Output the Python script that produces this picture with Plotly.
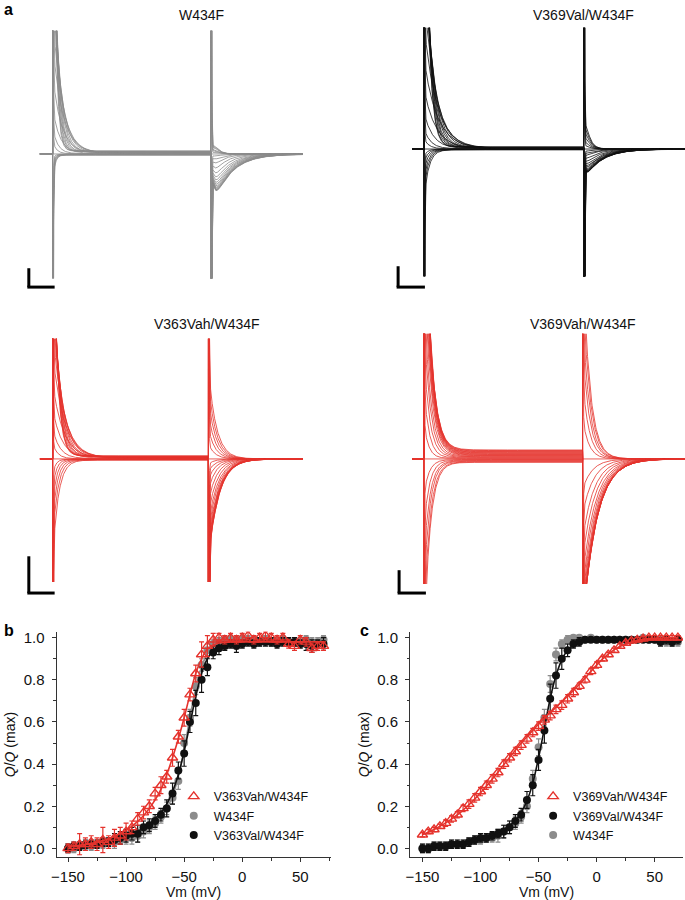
import numpy as np
import plotly.graph_objects as go

# ---------------- data: panel a (gating-current families) ----------------
steps_mV = [-150, -140, -130, -120, -110, -100, -90, -80, -70, -60, -50, -40,
            -30, -20, -10, 0, 10, 20, 30, 40, 50, 60, 70]
HOLD_mV = -90

# W434F (grey)
w434f_on_amp = [-30, -25, -20, -15, -10, -5, 0, 12, 25, 45, 78, 110, 140, 170, 200, 230, 260, 290, 320, 350, 380, 410, 440]
w434f_on_tau = [0.8, 0.8, 0.8, 0.8, 0.8, 0.8, 1.0, 1.5, 2.0, 2.8, 3.4, 3.8, 3.6, 3.2, 2.8, 2.4, 2.1, 1.8, 1.6, 1.4, 1.25, 1.1, 1.0]
w434f_off_amp = [8, 7, 6, 4, 3, 1.5, 0, -2, -5, -9, -14, -19, -23, -26, -28.5, -30.5, -32, -33.5, -34.5, -35.5, -36, -36.5, -37]
w434f_off_tau = [1.5, 1.5, 1.5, 1.5, 1.5, 1.5, 1.0, 3.0, 3.5, 4.0, 4.5, 5.0, 5.5, 5.8, 6.0, 6.2, 6.4, 6.5, 6.6, 6.7, 6.8, 6.8, 6.9]
w434f_off_rise = 0.9
w434f_leak = 3

# V369Val/W434F (black)
v369val_on_amp = [-50, -40, -31, -22, -14, -7, 0, 10, 20, 36, 60, 90, 125, 160, 190, 220, 245, 270, 295, 320, 345, 370, 395]
v369val_on_tau = [1.8, 1.7, 1.6, 1.5, 1.4, 1.3, 1.0, 2.0, 2.6, 3.5, 4.5, 5.0, 4.8, 4.3, 3.8, 3.3, 2.9, 2.6, 2.3, 2.1, 1.9, 1.7, 1.6]
v369val_off_amp = [22, 18, 14, 10, 6, 3, 0, -2, -4, -6, -9, -12, -14.5, -16.5, -18, -19.5, -20.5, -21.2, -21.8, -22.3, -22.7, -23, -23.3]
v369val_off_tau = [1.5, 1.5, 1.5, 1.5, 1.5, 1.5, 1.0, 3.5, 4.0, 4.5, 5.0, 5.5, 5.8, 6.0, 6.1, 6.2, 6.3, 6.3, 6.4, 6.4, 6.5, 6.5, 6.5]
v369val_off_rise = 0.5
v369val_leak = 2

# V363Vah/W434F (red)
v363vah_on_amp = [-100, -80, -62, -45, -30, -15, 0, 15, 30, 50, 75, 105, 130, 150, 170, 185, 200, 215, 230, 245, 260, 275, 290]
v363vah_on_tau = [2.2, 2.0, 1.8, 1.6, 1.4, 1.2, 1.0, 2.0, 2.8, 3.6, 4.2, 4.4, 4.2, 3.8, 3.4, 3.0, 2.7, 2.4, 2.2, 2.0, 1.8, 1.7, 1.6]
v363vah_off_amp = [90, 75, 60, 45, 30, 15, 0, -5, -12, -20, -30, -42, -54, -64, -72, -79, -85, -89, -93, -96, -98, -99, -100]
v363vah_off_tau = [3.0, 2.9, 2.8, 2.7, 2.6, 2.5, 1.0, 2.5, 2.8, 3.0, 3.2, 3.4, 3.6, 3.8, 3.9, 4.0, 4.0, 4.0, 4.0, 4.0, 4.0, 4.0, 4.0]
v363vah_off_rise = 0.0
v363vah_leak = 3

# V369Vah/W434F (red)
v369vah_on_amp = [-188, -160, -130, -100, -68, -35, 0, 35, 70, 105, 140, 170, 200, 225, 245, 262, 276, 287, 295, 300, 303, 305, 307]
v369vah_on_tau = [2.3, 2.3, 2.2, 2.2, 2.1, 2.0, 1.0, 1.8, 2.0, 2.2, 2.3, 2.4, 2.5, 2.5, 2.5, 2.5, 2.5, 2.5, 2.5, 2.5, 2.5, 2.5, 2.5]
v369vah_off_amp = [205, 175, 145, 112, 78, 40, 0, -30, -55, -80, -100, -118, -132, -143, -151, -157, -161, -164, -165, -166, -167, -167, -167]
v369vah_off_tau = [2.7, 2.7, 2.6, 2.6, 2.5, 2.4, 1.0, 3.8, 4.2, 4.5, 4.7, 4.9, 5.0, 5.1, 5.2, 5.2, 5.3, 5.3, 5.3, 5.3, 5.3, 5.3, 5.3]
v369vah_off_rise = 0.0
v369vah_leak = 9

# ---------------- data: panels b and c (Q/Qmax vs Vm) ----------------
vm_mV = [-150, -145, -140, -135, -130, -125, -120, -115, -110, -105, -100, -95, -90, -85, -80,
         -75, -70, -65, -60, -55, -50, -45, -40, -35, -30, -25, -20, -15, -10, -5, 0,
         5, 10, 15, 20, 25, 30, 35, 40, 45, 50, 55, 60, 65, 70]

b_v363vah = [0.00, 0.01, 0.02, 0.02, 0.03, 0.02, 0.04, 0.03, 0.05, 0.06, 0.08, 0.10, 0.14, 0.17, 0.20,
             0.26, 0.30, 0.34, 0.43, 0.53, 0.62, 0.73, 0.83, 0.92, 0.96, 0.99, 1.00, 0.99, 1.00, 0.99, 1.00,
             1.01, 0.99, 1.00, 1.01, 1.00, 0.99, 1.00, 0.97, 0.96, 0.99, 0.98, 0.95, 0.96, 0.96]
b_v363vah_err = [0.02, 0.02, 0.05, 0.03, 0.03, 0.03, 0.06, 0.03, 0.04, 0.04, 0.04, 0.03, 0.03, 0.03, 0.03,
                 0.03, 0.04, 0.03, 0.04, 0.03, 0.04, 0.03, 0.04, 0.06, 0.05, 0.03, 0.02, 0.02, 0.02, 0.02, 0.02,
                 0.02, 0.02, 0.02, 0.02, 0.02, 0.02, 0.02, 0.02, 0.02, 0.02, 0.02, 0.02, 0.02, 0.02]
b_v363vah_fit = [0.010, 0.012, 0.015, 0.019, 0.024, 0.030, 0.037, 0.046, 0.057, 0.070, 0.086, 0.105, 0.128, 0.155, 0.190,
                 0.230, 0.280, 0.350, 0.430, 0.520, 0.620, 0.730, 0.830, 0.900, 0.945, 0.965, 0.975, 0.978, 0.980, 0.980, 0.980,
                 0.980, 0.980, 0.980, 0.980, 0.980, 0.980, 0.980, 0.980, 0.980, 0.980, 0.980, 0.980, 0.980, 0.980]

b_w434f = [0.00, 0.00, 0.01, 0.01, 0.01, 0.02, 0.02, 0.03, 0.03, 0.04, 0.05, 0.05, 0.06, 0.08, 0.10,
           0.12, 0.15, 0.19, 0.24, 0.32, 0.50, 0.62, 0.77, 0.87, 0.94, 0.97, 0.98, 0.99, 0.99, 0.99, 0.99,
           0.99, 0.99, 0.98, 0.99, 0.98, 0.98, 0.99, 0.98, 0.98, 0.98, 0.99, 0.98, 0.98, 0.99]
b_w434f_err = [0.02, 0.02, 0.02, 0.02, 0.02, 0.02, 0.02, 0.02, 0.03, 0.02, 0.03, 0.03, 0.03, 0.03, 0.03,
               0.03, 0.03, 0.03, 0.03, 0.04, 0.04, 0.04, 0.04, 0.03, 0.03, 0.02, 0.02, 0.02, 0.02, 0.02, 0.02,
               0.02, 0.02, 0.02, 0.02, 0.02, 0.02, 0.02, 0.02, 0.02, 0.02, 0.02, 0.02, 0.02, 0.02]
b_w434f_fit = [0.004, 0.006, 0.008, 0.010, 0.013, 0.016, 0.020, 0.025, 0.031, 0.038, 0.046, 0.056, 0.068, 0.083, 0.100,
               0.122, 0.150, 0.190, 0.250, 0.340, 0.470, 0.620, 0.760, 0.860, 0.925, 0.960, 0.975, 0.982, 0.985, 0.985, 0.985,
               0.985, 0.985, 0.985, 0.985, 0.985, 0.985, 0.985, 0.985, 0.985, 0.985, 0.985, 0.985, 0.985, 0.985]

b_v363val = [0.00, 0.01, 0.01, 0.02, 0.02, 0.02, 0.03, 0.03, 0.04, 0.05, 0.06, 0.07, 0.07, 0.10, 0.11,
             0.13, 0.16, 0.19, 0.26, 0.37, 0.45, 0.60, 0.69, 0.80, 0.86, 0.93, 0.95, 0.96, 0.97, 0.96, 0.97,
             0.98, 0.97, 0.98, 0.98, 0.98, 0.97, 0.98, 0.98, 0.98, 0.97, 0.97, 0.96, 0.97, 0.97]
b_v363val_err = [0.02, 0.02, 0.02, 0.02, 0.02, 0.02, 0.02, 0.02, 0.03, 0.03, 0.03, 0.03, 0.04, 0.03, 0.03,
                 0.03, 0.03, 0.04, 0.05, 0.04, 0.06, 0.05, 0.06, 0.06, 0.04, 0.03, 0.03, 0.02, 0.02, 0.03, 0.02,
                 0.02, 0.02, 0.02, 0.02, 0.02, 0.02, 0.02, 0.02, 0.02, 0.02, 0.03, 0.03, 0.02, 0.03]
b_v363val_fit = [0.005, 0.007, 0.009, 0.012, 0.015, 0.019, 0.024, 0.030, 0.037, 0.045, 0.055, 0.066, 0.080, 0.096, 0.115,
                 0.140, 0.170, 0.210, 0.270, 0.350, 0.460, 0.590, 0.720, 0.830, 0.900, 0.940, 0.960, 0.970, 0.975, 0.975, 0.975,
                 0.975, 0.975, 0.975, 0.975, 0.975, 0.975, 0.975, 0.975, 0.975, 0.975, 0.975, 0.975, 0.975, 0.975]

c_v369vah = [0.065, 0.080, 0.090, 0.105, 0.120, 0.140, 0.160, 0.190, 0.210, 0.240, 0.270, 0.300, 0.330, 0.360, 0.400,
             0.430, 0.460, 0.490, 0.520, 0.550, 0.580, 0.610, 0.630, 0.660, 0.680, 0.710, 0.740, 0.770, 0.800, 0.840, 0.870,
             0.900, 0.920, 0.940, 0.960, 0.975, 0.985, 0.990, 0.995, 1.000, 1.000, 1.000, 1.000, 1.000, 1.000]
c_v369vah_err = [0.01, 0.01, 0.01, 0.01, 0.015, 0.015, 0.015, 0.015, 0.02, 0.02, 0.02, 0.02, 0.02, 0.02, 0.02,
                 0.02, 0.02, 0.02, 0.02, 0.02, 0.02, 0.02, 0.02, 0.02, 0.02, 0.02, 0.02, 0.015, 0.015, 0.015, 0.015,
                 0.01, 0.01, 0.01, 0.01, 0.01, 0.01, 0.01, 0.01, 0.01, 0.01, 0.01, 0.01, 0.01, 0.01]
c_v369vah_fit = [0.065, 0.077, 0.090, 0.105, 0.121, 0.139, 0.159, 0.182, 0.207, 0.234, 0.264, 0.295, 0.328, 0.362, 0.397,
                 0.432, 0.466, 0.499, 0.530, 0.560, 0.590, 0.617, 0.644, 0.670, 0.696, 0.722, 0.750, 0.778, 0.808, 0.840, 0.870,
                 0.898, 0.922, 0.942, 0.958, 0.970, 0.980, 0.987, 0.992, 0.995, 0.997, 0.998, 0.999, 1.000, 1.000]

c_v369val = [0.00, 0.00, 0.01, 0.01, 0.01, 0.02, 0.02, 0.02, 0.03, 0.04, 0.05, 0.05, 0.06, 0.07, 0.08,
             0.10, 0.13, 0.16, 0.23, 0.30, 0.42, 0.56, 0.71, 0.82, 0.90, 0.94, 0.97, 0.98, 0.99, 0.99, 0.99,
             0.99, 0.99, 0.99, 0.99, 0.99, 0.99, 0.99, 0.99, 0.99, 0.99, 0.98, 0.99, 0.98, 0.99]
c_v369val_err = [0.02, 0.02, 0.02, 0.02, 0.02, 0.02, 0.02, 0.02, 0.02, 0.02, 0.02, 0.02, 0.02, 0.02, 0.03,
                 0.03, 0.03, 0.03, 0.04, 0.05, 0.05, 0.06, 0.07, 0.06, 0.05, 0.03, 0.02, 0.02, 0.01, 0.01, 0.01,
                 0.01, 0.01, 0.01, 0.01, 0.01, 0.01, 0.01, 0.01, 0.01, 0.01, 0.02, 0.02, 0.02, 0.02]
c_v369val_fit = [0.003, 0.005, 0.007, 0.009, 0.012, 0.015, 0.019, 0.024, 0.030, 0.037, 0.045, 0.054, 0.064, 0.076, 0.090,
                 0.108, 0.132, 0.170, 0.225, 0.310, 0.430, 0.570, 0.710, 0.820, 0.895, 0.940, 0.965, 0.978, 0.985, 0.988, 0.990,
                 0.990, 0.990, 0.990, 0.990, 0.990, 0.990, 0.990, 0.990, 0.990, 0.990, 0.990, 0.990, 0.990, 0.990]

c_w434f = [0.00, 0.00, 0.01, 0.01, 0.01, 0.02, 0.02, 0.02, 0.03, 0.04, 0.04, 0.05, 0.05, 0.06, 0.08,
           0.10, 0.12, 0.15, 0.20, 0.33, 0.48, 0.62, 0.78, 0.92, 0.97, 0.99, 1.00, 1.00, 0.99, 1.00, 0.99,
           0.99, 0.99, 0.99, 0.99, 0.99, 0.99, 0.99, 1.00, 0.99, 0.99, 0.99, 0.98, 0.98, 0.98]
c_w434f_err = [0.02, 0.02, 0.02, 0.02, 0.02, 0.02, 0.02, 0.02, 0.02, 0.02, 0.02, 0.02, 0.02, 0.03, 0.03,
               0.03, 0.03, 0.03, 0.03, 0.04, 0.04, 0.04, 0.04, 0.03, 0.02, 0.02, 0.01, 0.01, 0.01, 0.01, 0.01,
               0.01, 0.01, 0.01, 0.01, 0.01, 0.01, 0.01, 0.01, 0.01, 0.01, 0.02, 0.02, 0.02, 0.02]

# ---------------- styles ----------------
RED = "#e5332d"
GREY = "#8c8c8c"
BLACK = "#111111"
FONT = "Liberation Sans, Arial, sans-serif"
W, H = 685, 900


def px_x(p):
    return p / W


def px_y(p):
    return 1 - p / H


T_ON, T_OFF, T_END = 5.0, 66.0, 112.0
TAU_CAP = 0.12
CAP_PER_MV = 20.0

fig = go.Figure()

panels = [
    dict(name="W434F", color=GREY, on_amp=w434f_on_amp, on_tau=w434f_on_tau, off_amp=w434f_off_amp,
         off_tau=w434f_off_tau, rise=w434f_off_rise, leak=w434f_leak,
         xd=(35, 300), xr=(0.03, 101.4), yd=(28, 277), yr=(-125, 124), ax=""),
    dict(name="V369Val/W434F", color=BLACK, on_amp=v369val_on_amp, on_tau=v369val_on_tau, off_amp=v369val_off_amp,
         off_tau=v369val_off_tau, rise=v369val_off_rise, leak=v369val_leak,
         xd=(410, 685), xr=(0.45, 104.6), yd=(25, 275), yr=(-128, 122), ax="2"),
    dict(name="V363Vah/W434F", color=RED, on_amp=v363vah_on_amp, on_tau=v363vah_on_tau, off_amp=v363vah_off_amp,
         off_tau=v363vah_off_tau, rise=v363vah_off_rise, leak=v363vah_leak,
         xd=(35, 300), xr=(-0.05, 102.9), yd=(338, 583), yr=(-124, 121), ax="3"),
    dict(name="V369Vah/W434F", color=RED, on_amp=v369vah_on_amp, on_tau=v369vah_on_tau, off_amp=v369vah_off_amp,
         off_tau=v369vah_off_tau, rise=v369vah_off_rise, leak=v369vah_leak,
         xd=(410, 685), xr=(0.42, 105.3), yd=(333, 585), yr=(-126, 126), ax="4"),
]

dt_on = np.concatenate([np.linspace(0, 3, 301), np.linspace(3.05, 60.95, 400)])
dt_off = np.concatenate([np.linspace(0, 3, 301), np.linspace(3.05, T_END - T_OFF, 300)])


def off_shape(t, td, tr):
    if tr <= 0:
        return np.exp(-t / td)
    tp = td * tr / (td - tr) * np.log(td / tr)
    norm = np.exp(-tp / td) - np.exp(-tp / tr)
    return (np.exp(-t / td) - np.exp(-t / tr)) / norm


for p in panels:
    xa = "x" + p["ax"]
    ya = "y" + p["ax"]
    for k, v in enumerate(steps_mV):
        dv = v - HOLD_mV
        on = (CAP_PER_MV * dv * np.exp(-dt_on / TAU_CAP)
              + p["on_amp"][k] * np.exp(-dt_on / p["on_tau"][k])
              + p["leak"] * dv / 160.0)
        off = (-CAP_PER_MV * dv * np.exp(-dt_off / TAU_CAP)
               + p["off_amp"][k] * off_shape(dt_off, p["off_tau"][k], p["rise"]))
        xs = np.concatenate([[0.0, T_ON], T_ON + dt_on, T_OFF + dt_off])
        ys = np.concatenate([[0.0, 0.0], on, off])
        fig.add_trace(go.Scatter(x=xs, y=ys, mode="lines", xaxis=xa, yaxis=ya,
                                 line=dict(color=p["color"], width=0.8), showlegend=False,
                                 hoverinfo="skip"))
    xkey = "xaxis" + p["ax"]
    ykey = "yaxis" + p["ax"]
    fig.layout[xkey] = dict(domain=[px_x(p["xd"][0]), px_x(p["xd"][1])], range=list(p["xr"]),
                            visible=False, anchor=ya)
    fig.layout[ykey] = dict(domain=[px_y(p["yd"][1]), px_y(p["yd"][0])], range=list(p["yr"]),
                            visible=False, anchor=xa)

# ---------------- Q-V panels ----------------
def qv(x, y, err, name, color, symbol, xa, ya, legend, rank, size=8):
    fill = dict(color=color, size=size, symbol=symbol)
    if "open" in symbol:
        fill["line"] = dict(color=color, width=1.4)
    return go.Scatter(x=x, y=y, mode="markers", name=name, xaxis=xa, yaxis=ya,
                      marker=fill, legend=legend, legendrank=rank,
                      error_y=dict(type="data", array=err, color=color, thickness=1.2, width=2.5))


def fitline(x, y, color, xa, ya):
    return go.Scatter(x=x, y=y, mode="lines", xaxis=xa, yaxis=ya, showlegend=False,
                      line=dict(color=color, width=1.6, shape="spline"), hoverinfo="skip")


# panel b
fig.add_trace(qv(vm_mV, b_w434f, b_w434f_err, "W434F", GREY, "circle", "x5", "y5", "legend", 2))
fig.add_trace(fitline(vm_mV, b_w434f_fit, GREY, "x5", "y5"))
fig.add_trace(qv(vm_mV, b_v363val, b_v363val_err, "V363Val/W434F", BLACK, "circle", "x5", "y5", "legend", 3))
fig.add_trace(fitline(vm_mV, b_v363val_fit, BLACK, "x5", "y5"))
fig.add_trace(qv(vm_mV, b_v363vah, b_v363vah_err, "V363Vah/W434F", RED, "triangle-up-open", "x5", "y5", "legend", 1, 9))
fig.add_trace(fitline(vm_mV, b_v363vah_fit, RED, "x5", "y5"))

# panel c
fig.add_trace(qv(vm_mV, c_w434f, c_w434f_err, "W434F", GREY, "circle", "x6", "y6", "legend2", 3))
fig.add_trace(qv(vm_mV, c_v369val, c_v369val_err, "V369Val/W434F", BLACK, "circle", "x6", "y6", "legend2", 2))
fig.add_trace(fitline(vm_mV, c_v369val_fit, BLACK, "x6", "y6"))
fig.add_trace(qv(vm_mV, c_v369vah, c_v369vah_err, "V369Vah/W434F", RED, "triangle-up-open", "x6", "y6", "legend2", 1, 9))
fig.add_trace(fitline(vm_mV, c_v369vah_fit, RED, "x6", "y6"))

axis_common = dict(showline=True, linecolor="#333", linewidth=1, ticks="outside", ticklen=4,
                   tickwidth=1, tickcolor="#333", showgrid=False, zeroline=False,
                   tickfont=dict(family=FONT, size=15, color="#111"))
xqv = dict(axis_common, tickmode="linear", tick0=0, dtick=50, ticklabelstandoff=2,
           minor=dict(ticks="outside", ticklen=2.5, tickcolor="#333", dtick=25, tick0=0, showgrid=False),
           title=dict(text="Vm (mV)", font=dict(family=FONT, size=14, color="#111"), standoff=5))
yqv = dict(axis_common, tickmode="linear", tick0=0, dtick=0.2, tickformat=".1f", ticklabelstandoff=4,
           minor=dict(ticks="outside", ticklen=2.5, tickcolor="#333", dtick=0.1, tick0=0, showgrid=False),
           title=dict(text="<i>Q</i>/<i>Q</i> (max)", font=dict(family=FONT, size=14, color="#111"), standoff=4))

fig.layout["xaxis5"] = dict(xqv, domain=[px_x(52), px_x(328)], range=[-159.8, 76.1], anchor="y5")
fig.layout["yaxis5"] = dict(yqv, domain=[px_y(860), px_y(633)], range=[-0.042, 1.028], anchor="x5")
fig.layout["xaxis6"] = dict(xqv, domain=[px_x(408), px_x(683)], range=[-160.7, 74.4], anchor="y6")
fig.layout["yaxis6"] = dict(yqv, domain=[px_y(860), px_y(633)], range=[-0.042, 1.028], anchor="x6")

legend_style = dict(font=dict(family=FONT, size=12.5, color="#111"), bgcolor="rgba(0,0,0,0)",
                    xanchor="left", yanchor="top", tracegroupgap=0, itemwidth=30)
fig.update_layout(
    legend=dict(legend_style, x=px_x(170), y=px_y(784)),
    legend2=dict(legend_style, x=px_x(532), y=px_y(784)),
)

# ---------------- text annotations ----------------
ann = []
for text, cx, cy in [("W434F", 198, 12), ("V369Val/W434F", 583, 12),
                     ("V363Vah/W434F", 203, 323), ("V369Vah/W434F", 582, 323)]:
    ann.append(dict(text=text, x=px_x(cx), y=px_y(cy), xref="paper", yref="paper",
                    xanchor="center", yanchor="middle", showarrow=False,
                    font=dict(family=FONT, size=14, color="#111")))
for text, cx, cy in [("a", 4, 7), ("b", 4, 632), ("c", 362, 632)]:
    ann.append(dict(text="<b>" + text + "</b>", x=px_x(cx), y=px_y(cy), xref="paper", yref="paper",
                    xanchor="center", yanchor="middle", showarrow=False,
                    font=dict(family=FONT, size=16, color="#000")))

# scale bars (paper coordinates)
shapes = []
for (vx, vy0, vy1, hx1) in [(24, 267, 286, 50), (396, 265, 286, 423), (24, 557, 594, 50), (397, 571, 594, 424)]:
    shapes.append(dict(type="line", xref="paper", yref="paper", x0=px_x(vx), x1=px_x(vx),
                       y0=px_y(vy0), y1=px_y(vy1), line=dict(color="#000", width=3)))
    shapes.append(dict(type="line", xref="paper", yref="paper", x0=px_x(vx - 1.5), x1=px_x(hx1),
                       y0=px_y(vy1), y1=px_y(vy1), line=dict(color="#000", width=3)))

fig.update_layout(width=W, height=H, margin=dict(l=0, r=0, t=0, b=0),
                  paper_bgcolor="white", plot_bgcolor="white",
                  annotations=ann, shapes=shapes, font=dict(family=FONT))

fig.write_html("out.html", config={"displayModeBar": False, "staticPlot": True})

# remove the browser's default 8px body margin so the figure sits at the page origin
with open("out.html", "r", encoding="utf-8") as fh:
    page = fh.read()
page = page.replace("<body>", '<body style="margin:0;padding:0;overflow:hidden">', 1)
with open("out.html", "w", encoding="utf-8") as fh:
    fh.write(page)
